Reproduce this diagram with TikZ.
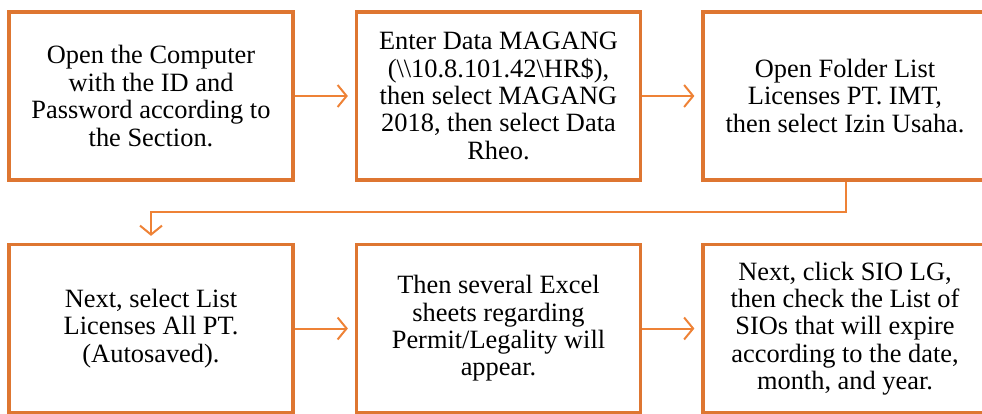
\documentclass[tikz,border=0pt]{standalone}
\usepackage{fontspec}
\setmainfont{Liberation Serif}
\usetikzlibrary{arrows.meta}
\definecolor{borange}{HTML}{DE7631}
\definecolor{lorange}{HTML}{EE8236}
\tikzset{
  stepbox/.style={draw=borange, line width=3.2pt, minimum width=284pt, minimum height=168pt, inner sep=0pt,
    align=center, font=\fontsize{26.4pt}{27.4pt}\selectfont, text=black},
  conn/.style={draw=lorange, line width=2pt, -{Straight Barb[length=9pt,width=22pt,line width=2pt]}, shorten >=7pt}
}
\begin{document}
\begin{tikzpicture}[x=1pt,y=-1pt]
\useasboundingbox (0,0) rectangle (982,414);
\clip (0,0) rectangle (982,414);
\node[stepbox] (a) at (151,96) {Open the Computer\\with the ID and\\Password according to\\the Section.};
\node[stepbox] (b) at (498.5,96) {Enter Data MAGANG\\(\textbackslash\textbackslash 10.8.101.42\textbackslash HR\$),\\then select MAGANG\\2018, then select Data\\Rheo.};
\node[stepbox] (c) at (845,96) {Open Folder List\\Licenses PT. IMT,\\then select Izin Usaha.};
\node[stepbox] (d) at (151,328.5) {Next, select List\\Licenses All PT.\\(Autosaved).};
\node[stepbox] (e) at (498.5,328.5) {Then several Excel\\sheets regarding\\Permit/Legality will\\appear.};
\node[stepbox] (f) at (845,328.5) {Next, click SIO LG,\\then check the List of\\SIOs that will expire\\according to the date,\\month, and year.};
\coordinate (t1) at (846,212);
\coordinate (t2) at (151,212);
\draw[conn] (a.east) -- (b.west);
\draw[conn] (b.east) -- (c.west);
\draw[conn] (d.east) -- (e.west);
\draw[conn] (e.east) -- (f.west);
\draw[conn] (c.south -| t1) -- (t1) -- (t2) -- (d.north);
\end{tikzpicture}
\end{document}
